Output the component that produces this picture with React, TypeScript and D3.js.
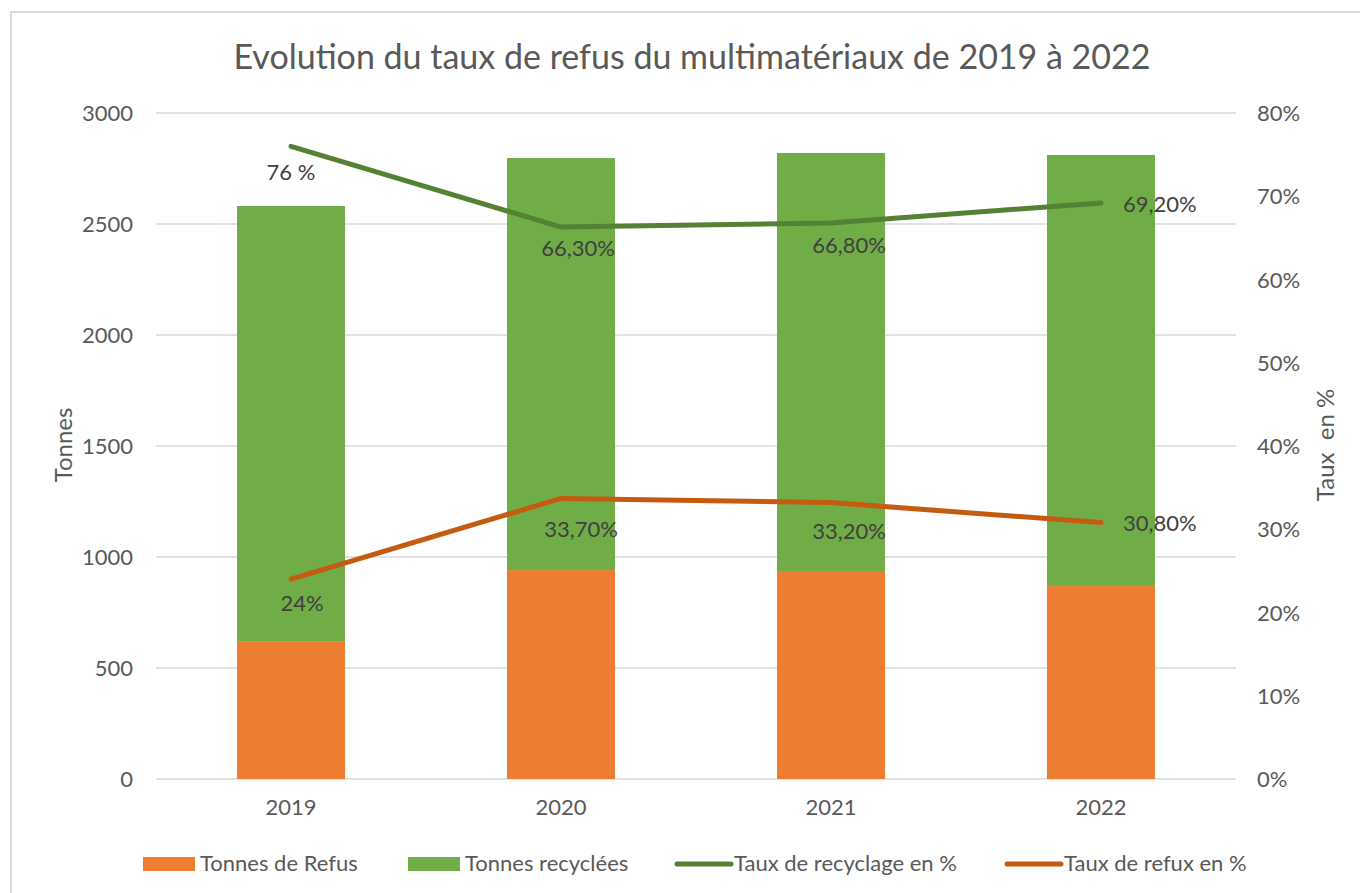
import React from "react";
import * as d3 from "d3";

const years = ["2019", "2020", "2021", "2022"];
const tonnesRefus = [621, 941, 937, 869];
const tonnesRecyclees = [1960, 1856, 1883, 1942];
const tauxRecyclage = [76, 66.3, 66.8, 69.2];
const tauxRefus = [24, 33.7, 33.2, 30.8];
const labelsRecyclage = ["76 %", "66,30%", "66,80%", "69,20%"];
const labelsRefus = ["24%", "33,70%", "33,20%", "30,80%"];
const leftTicks = [0, 500, 1000, 1500, 2000, 2500, 3000];
const rightTicks = [0, 10, 20, 30, 40, 50, 60, 70, 80];

// label offsets (style) relative to point: dx, dy, anchor
const recLabelOffsets: [number, number, string][] = [
  [0, 34, "middle"],
  [17, 29, "middle"],
  [18, 30, "middle"],
  [22, 9, "start"],
];
const refLabelOffsets: [number, number, string][] = [
  [11, 32, "middle"],
  [20, 39, "middle"],
  [18, 36, "middle"],
  [22, 8, "start"],
];

const FONT = "Lato, 'Open Sans', sans-serif";
const FS = 22;

export default function App() {
  const W = 1360, H = 893;
  const left = 156, right = 1236, top = 113, bottom = 779;
  const x = d3.scaleBand().domain(years).range([left, right]).paddingInner(0.6).paddingOuter(0.3);
  const y = d3.scaleLinear().domain([0, 3000]).range([bottom, top]);
  const y2 = d3.scaleLinear().domain([0, 80]).range([bottom, top]);
  const cx = (yr: string) => (x(yr) as number) + x.bandwidth() / 2;
  const line = d3.line<number>().x((_, i) => cx(years[i])).y((d) => y2(d));

  const legend = [
    { type: "rect", color: "#ED7D31", x: 143, label: "Tonnes de Refus" },
    { type: "rect", color: "#70AD47", x: 408, label: "Tonnes recyclées" },
    { type: "line", color: "#548235", x: 677, label: "Taux de recyclage en %" },
    { type: "line", color: "#C55A11", x: 1007, label: "Taux de refux en %" },
  ];

  return (
    <svg width={W} height={H} style={{ position: "absolute", left: 0, top: 0, display: "block" }} fontFamily={FONT}>
      <rect x={0} y={0} width={W} height={H} fill="#fff" />
      <path d={`M11,${H} L11,12 L${W},12`} fill="none" stroke="#d9d9d9" strokeWidth={2} />
      <text x={692} y={69} textAnchor="middle" fontSize={34} fill="#595959">
        Evolution du taux de refus du multimatériaux de 2019 à 2022
      </text>
      {leftTicks.map((t) => (
        <g key={t}>
          <line x1={left} x2={right} y1={y(t)} y2={y(t)} stroke="#d9d9d9" strokeWidth={1.5} />
          <text x={133} y={y(t) + 8} textAnchor="end" fontSize={FS} fill="#595959">{t}</text>
        </g>
      ))}
      {rightTicks.map((t) => (
        <text key={t} x={1257} y={y2(t) + 8} textAnchor="start" fontSize={FS} fill="#595959">{t}%</text>
      ))}
      {years.map((yr, i) => (
        <g key={yr}>
          <rect x={x(yr)} width={x.bandwidth()} y={y(tonnesRefus[i])} height={y(0) - y(tonnesRefus[i])} fill="#ED7D31" />
          <rect x={x(yr)} width={x.bandwidth()} y={y(tonnesRefus[i] + tonnesRecyclees[i])} height={y(tonnesRefus[i]) - y(tonnesRefus[i] + tonnesRecyclees[i])} fill="#70AD47" />
          <text x={cx(yr)} y={815} textAnchor="middle" fontSize={FS} fill="#595959">{yr}</text>
        </g>
      ))}
      <path d={line(tauxRecyclage) || ""} fill="none" stroke="#548235" strokeWidth={5} strokeLinecap="round" strokeLinejoin="round" />
      <path d={line(tauxRefus) || ""} fill="none" stroke="#C55A11" strokeWidth={5} strokeLinecap="round" strokeLinejoin="round" />
      {tauxRecyclage.map((v, i) => (
        <text key={"r" + i} x={cx(years[i]) + recLabelOffsets[i][0]} y={y2(v) + recLabelOffsets[i][1]} textAnchor={recLabelOffsets[i][2] as any} fontSize={FS} fill="#404040">{labelsRecyclage[i]}</text>
      ))}
      {tauxRefus.map((v, i) => (
        <text key={"f" + i} x={cx(years[i]) + refLabelOffsets[i][0]} y={y2(v) + refLabelOffsets[i][1]} textAnchor={refLabelOffsets[i][2] as any} fontSize={FS} fill="#404040">{labelsRefus[i]}</text>
      ))}
      <text transform={`translate(72,445) rotate(-90)`} textAnchor="middle" fontSize={24} fill="#595959">Tonnes</text>
      <text transform={`translate(1334,445) rotate(-90)`} textAnchor="middle" fontSize={24} fill="#595959" style={{ whiteSpace: "pre" }}>Taux  en %</text>
      {legend.map((l) => (
        <g key={l.label}>
          {l.type === "rect" ? (
            <rect x={l.x} y={857} width={52} height={14} fill={l.color} />
          ) : (
            <line x1={l.x} x2={l.x + 54} y1={864} y2={864} stroke={l.color} strokeWidth={5} strokeLinecap="round" />
          )}
          <text x={l.x + 57} y={871} fontSize={FS} fill="#595959">{l.label}</text>
        </g>
      ))}
    </svg>
  );
}
